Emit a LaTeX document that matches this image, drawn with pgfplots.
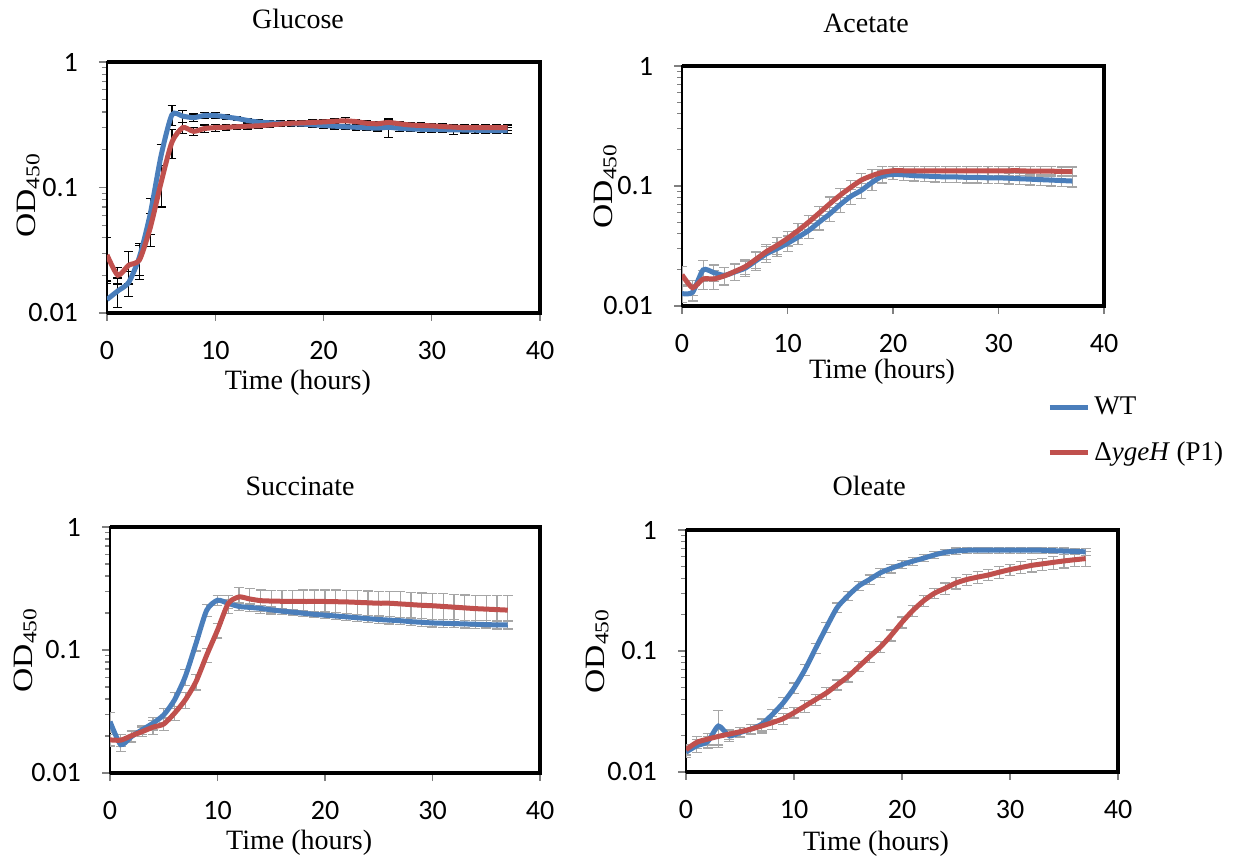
\documentclass[border=0pt]{standalone}
\usepackage{fontspec}
\setmainfont{Liberation Serif}
\newfontfamily\calibri{Carlito}
\usepackage{pgfplots}
\usepackage{pgfplotstable}
\pgfplotsset{compat=1.18}
\definecolor{wtblue}{HTML}{4A7EBB}
\definecolor{ygred}{HTML}{C0504D}

\pgfplotstableread{
x wt wte yg yge
0 0.0128 0.0043 0.029 0.011
1 0.0150 0.0040 0.0200 0.0030
2 0.0175 0.0040 0.0240 0.0070
3 0.028 0.008 0.0265 0.0080
4 0.062 0.020 0.048 0.014
5 0.18 0.04 0.11 0.04
6 0.38 0.07 0.23 0.06
7 0.37 0.04 0.30 0.03
8 0.36 0.025 0.28 0.02
9 0.375 0.02 0.295 0.02
10 0.375 0.02 0.30 0.02
11 0.365 0.015 0.302 0.015
12 0.355 0.015 0.305 0.015
13 0.342 0.015 0.308 0.015
14 0.332 0.015 0.31 0.015
15 0.328 0.015 0.315 0.015
16 0.325 0.015 0.32 0.015
17 0.322 0.015 0.325 0.015
18 0.32 0.015 0.327 0.015
19 0.316 0.015 0.33 0.015
20 0.312 0.015 0.333 0.015
21 0.308 0.015 0.337 0.015
22 0.305 0.015 0.34 0.02
23 0.302 0.015 0.335 0.015
24 0.299 0.015 0.325 0.015
25 0.297 0.015 0.322 0.015
26 0.302 0.05 0.33 0.015
27 0.296 0.015 0.322 0.015
28 0.293 0.015 0.315 0.015
29 0.291 0.015 0.312 0.015
30 0.29 0.015 0.31 0.015
31 0.289 0.015 0.306 0.015
32 0.288 0.025 0.303 0.015
33 0.287 0.015 0.30 0.015
34 0.286 0.015 0.30 0.015
35 0.285 0.015 0.30 0.015
36 0.284 0.015 0.30 0.015
37 0.284 0.015 0.30 0.015
}\glu

\pgfplotstableread{
x wt wte yg yge
0 0.0127 0.002 0.0182 0.003
1 0.0130 0.002 0.0142 0.002
2 0.0200 0.004 0.0168 0.003
3 0.0190 0.003 0.0168 0.003
4 0.0180 0.003 0.0178 0.003
5 0.0192 0.003 0.0194 0.003
6 0.0207 0.003 0.0213 0.003
7 0.0238 0.004 0.0245 0.004
8 0.0272 0.004 0.0284 0.004
9 0.0300 0.004 0.0320 0.005
10 0.0333 0.005 0.0366 0.005
11 0.0375 0.005 0.0425 0.006
12 0.0425 0.006 0.0500 0.007
13 0.0500 0.007 0.0595 0.008
14 0.0585 0.008 0.0710 0.010
15 0.0700 0.010 0.0840 0.012
16 0.0820 0.012 0.0975 0.014
17 0.0920 0.013 0.112 0.015
18 0.107 0.015 0.122 0.015
19 0.121 0.015 0.130 0.015
20 0.125 0.012 0.134 0.012
21 0.124 0.012 0.134 0.012
22 0.122 0.012 0.134 0.012
23 0.121 0.012 0.134 0.012
24 0.120 0.012 0.134 0.012
25 0.119 0.012 0.134 0.012
26 0.119 0.012 0.134 0.012
27 0.118 0.012 0.134 0.012
28 0.118 0.012 0.134 0.012
29 0.117 0.012 0.134 0.012
30 0.117 0.012 0.134 0.012
31 0.116 0.012 0.134 0.012
32 0.115 0.012 0.134 0.012
33 0.114 0.012 0.133 0.012
34 0.113 0.012 0.133 0.012
35 0.112 0.012 0.133 0.012
36 0.111 0.012 0.132 0.012
37 0.110 0.012 0.132 0.012
}\ace

\pgfplotstableread{
x wt wte yg yge
0 0.0262 0.005 0.0186 0.002
1 0.0170 0.002 0.0185 0.002
2 0.0198 0.002 0.0201 0.002
3 0.0225 0.002 0.0217 0.002
4 0.0254 0.003 0.0236 0.003
5 0.0297 0.004 0.0250 0.003
6 0.0393 0.006 0.0306 0.004
7 0.0608 0.009 0.0393 0.006
8 0.113 0.015 0.0553 0.008
9 0.211 0.025 0.091 0.012
10 0.254 0.025 0.145 0.020
11 0.239 0.020 0.239 0.040
12 0.226 0.015 0.270 0.050
13 0.222 0.015 0.260 0.055
14 0.218 0.012 0.252 0.055
15 0.212 0.012 0.250 0.055
16 0.207 0.012 0.249 0.055
17 0.203 0.012 0.249 0.055
18 0.199 0.012 0.248 0.060
19 0.195 0.012 0.248 0.060
20 0.192 0.012 0.248 0.060
21 0.189 0.012 0.247 0.060
22 0.186 0.012 0.246 0.060
23 0.183 0.012 0.244 0.060
24 0.180 0.012 0.242 0.060
25 0.177 0.012 0.240 0.060
26 0.175 0.012 0.240 0.060
27 0.173 0.012 0.237 0.060
28 0.170 0.012 0.234 0.060
29 0.168 0.012 0.231 0.060
30 0.166 0.012 0.229 0.060
31 0.165 0.012 0.226 0.060
32 0.164 0.012 0.223 0.060
33 0.163 0.012 0.220 0.060
34 0.162 0.012 0.217 0.060
35 0.161 0.012 0.215 0.062
36 0.160 0.012 0.213 0.064
37 0.160 0.012 0.211 0.065
}\suc

\pgfplotstableread{
x wt wte yg yge
0 0.0146 0.0015 0.0153 0.0015
1 0.0165 0.002 0.0176 0.002
2 0.0178 0.002 0.0187 0.002
3 0.0240 0.008 0.0197 0.003
4 0.0199 0.002 0.0206 0.002
5 0.0212 0.002 0.0215 0.002
6 0.0226 0.002 0.0226 0.002
7 0.0248 0.003 0.0240 0.003
8 0.0299 0.003 0.0256 0.003
9 0.0373 0.004 0.0276 0.003
10 0.0494 0.005 0.0309 0.003
11 0.0698 0.007 0.0350 0.004
12 0.105 0.010 0.0397 0.004
13 0.157 0.015 0.0450 0.005
14 0.229 0.020 0.0526 0.005
15 0.286 0.025 0.0615 0.006
16 0.345 0.030 0.0743 0.007
17 0.390 0.035 0.0899 0.009
18 0.443 0.035 0.108 0.011
19 0.482 0.040 0.135 0.014
20 0.518 0.040 0.173 0.018
21 0.552 0.040 0.216 0.022
22 0.585 0.040 0.260 0.026
23 0.622 0.040 0.300 0.030
24 0.654 0.040 0.330 0.035
25 0.670 0.040 0.365 0.040
26 0.680 0.040 0.390 0.040
27 0.682 0.040 0.408 0.045
28 0.682 0.040 0.425 0.045
29 0.682 0.040 0.448 0.050
30 0.682 0.040 0.471 0.050
31 0.682 0.040 0.490 0.055
32 0.682 0.040 0.510 0.060
33 0.680 0.040 0.525 0.060
34 0.675 0.040 0.540 0.065
35 0.670 0.040 0.555 0.070
36 0.665 0.040 0.568 0.070
37 0.660 0.040 0.580 0.080
}\ole

\pgfplotsset{
 every axis/.append style={
  scale only axis,
  xmin=0, xmax=40, ymin=0.01, ymax=1,
  xtick={0,10,20,30,40},
  ytick={0.01,0.1,1}, yticklabels={0.01,0.1,1},
  minor ytick={0.02,0.03,0.04,0.05,0.06,0.07,0.08,0.09,0.2,0.3,0.4,0.5,0.6,0.7,0.8,0.9},
  tick pos=left, tick align=outside,
  major tick length=4pt, minor tick length=2.5pt,
  tick style={gray, line width=0.6pt},
  axis line style={black, line width=0.6pt},
  clip mode=individual,
  ticklabel style={font=\calibri\fontsize{14}{16}\selectfont},
  xticklabel style={yshift=-6.5pt},
  yticklabel style={xshift=-7pt},
  xlabel={Time (hours)},
  ylabel={OD\textsubscript{450}},
  label style={font=\fontsize{14}{16}\selectfont},
  title style={font=\fontsize{14}{16}\selectfont},
 },
}
\newcommand{\thickbox}{\draw[line width=2pt, black, line join=miter] (rel axis cs:0,1) -- (rel axis cs:1,1) -- (rel axis cs:1,0) -- (rel axis cs:0,0);}

\begin{document}
\begin{tikzpicture}
\useasboundingbox (0,0) rectangle (629pt,429pt);

% Glucose
\begin{semilogyaxis}[at={(53.5pt,272.5pt)}, anchor=south west,
  width=216.5pt, height=125.5pt,
  /pgf/number format/assume math mode=true,
  title={Glucose}, title style={at={(0.441,1)}, anchor=center, yshift=15.5pt},
  xlabel style={at={(0.441,0)}, anchor=center, yshift=-35pt},
  ylabel style={at={(0,0.47)}, anchor=center, yshift=39.5pt, xscale=1.2}]
\addplot[forget plot, draw=none, mark=none, error bars/.cd, y dir=both, y explicit, error bar style={draw=black, line width=0.6pt}, error mark options={rotate=90, draw=black, mark size=2.2pt, line width=0.6pt}] table[x=x, y=wt, y error=wte] {\glu};
\addplot[forget plot, draw=none, mark=none, error bars/.cd, y dir=both, y explicit, error bar style={draw=black, line width=0.6pt}, error mark options={rotate=90, draw=black, mark size=2.2pt, line width=0.6pt}] table[x=x, y=yg, y error=yge] {\glu};
\addplot[wtblue, line width=2.5pt, smooth, tension=0.4, forget plot] table[x=x, y=wt] {\glu};
\addplot[ygred, line width=2.5pt, smooth, tension=0.4, forget plot] table[x=x, y=yg] {\glu};
\thickbox
\end{semilogyaxis}

% Acetate
\begin{semilogyaxis}[at={(341pt,276pt)}, anchor=south west,
  width=211pt, height=120pt,
  /pgf/number format/assume math mode=true,
  title={Acetate}, title style={at={(0.436,1)}, anchor=center, yshift=15.5pt},
  xlabel style={at={(0.474,0)}, anchor=center, yshift=-33pt},
  ylabel style={at={(0,0.5)}, anchor=center, yshift=38.5pt, xscale=1.2},
  legend style={at={(0.865,-0.36)}, anchor=north west, draw=none, fill=none,
    font=\fontsize{13.5}{16}\selectfont, row sep=8pt, inner sep=0pt},
  legend cell align=left,
  legend image code/.code={\draw[#1] (0pt,0pt) -- (19pt,0pt);}]
\addplot[forget plot, draw=none, mark=none, error bars/.cd, y dir=both, y explicit, error bar style={draw=gray!70, line width=0.6pt}, error mark options={rotate=90, draw=gray!70, mark size=2.5pt, line width=0.6pt}] table[x=x, y=wt, y error=wte] {\ace};
\addplot[forget plot, draw=none, mark=none, error bars/.cd, y dir=both, y explicit, error bar style={draw=gray!70, line width=0.6pt}, error mark options={rotate=90, draw=gray!70, mark size=2.5pt, line width=0.6pt}] table[x=x, y=yg, y error=yge] {\ace};
\addplot[wtblue, line width=2.5pt, smooth, tension=0.4, forget plot] table[x=x, y=wt] {\ace};
\addplot[ygred, line width=2.5pt, smooth, tension=0.4, forget plot] table[x=x, y=yg] {\ace};
\addlegendimage{wtblue, line width=2.5pt}
\addlegendentry{WT}
\addlegendimage{ygred, line width=2.5pt}
\addlegendentry{Δ\textit{ygeH} (P1)}
\thickbox
\end{semilogyaxis}

% Succinate
\begin{semilogyaxis}[at={(55pt,42.5pt)}, anchor=south west,
  width=215pt, height=123pt,
  /pgf/number format/assume math mode=true,
  title={Succinate}, title style={at={(0.442,1)}, anchor=center, yshift=14.5pt},
  xlabel style={at={(0.44,0)}, anchor=center, yshift=-35pt},
  ylabel style={at={(0,0.5)}, anchor=center, yshift=42.5pt, xscale=1.2}]
\addplot[forget plot, draw=none, mark=none, error bars/.cd, y dir=both, y explicit, error bar style={draw=gray!70, line width=0.6pt}, error mark options={rotate=90, draw=gray!70, mark size=2.5pt, line width=0.6pt}] table[x=x, y=wt, y error=wte] {\suc};
\addplot[forget plot, draw=none, mark=none, error bars/.cd, y dir=both, y explicit, error bar style={draw=gray!70, line width=0.6pt}, error mark options={rotate=90, draw=gray!70, mark size=2.5pt, line width=0.6pt}] table[x=x, y=yg, y error=yge] {\suc};
\addplot[wtblue, line width=2.5pt, smooth, tension=0.4, forget plot] table[x=x, y=wt] {\suc};
\addplot[ygred, line width=2.5pt, smooth, tension=0.4, forget plot] table[x=x, y=yg] {\suc};
\thickbox
\end{semilogyaxis}

% Oleate
\begin{semilogyaxis}[at={(343pt,43pt)}, anchor=south west,
  width=216pt, height=121pt,
  /pgf/number format/assume math mode=true,
  title={Oleate}, title style={at={(0.424,1)}, anchor=center, yshift=16pt},
  xlabel style={at={(0.44,0)}, anchor=center, yshift=-36pt},
  ylabel style={at={(0,0.5)}, anchor=center, yshift=44.5pt, xscale=1.2}]
\addplot[forget plot, draw=none, mark=none, error bars/.cd, y dir=both, y explicit, error bar style={draw=gray!70, line width=0.6pt}, error mark options={rotate=90, draw=gray!70, mark size=2.5pt, line width=0.6pt}] table[x=x, y=wt, y error=wte] {\ole};
\addplot[forget plot, draw=none, mark=none, error bars/.cd, y dir=both, y explicit, error bar style={draw=gray!70, line width=0.6pt}, error mark options={rotate=90, draw=gray!70, mark size=2.5pt, line width=0.6pt}] table[x=x, y=yg, y error=yge] {\ole};
\addplot[wtblue, line width=2.5pt, smooth, tension=0.4, forget plot] table[x=x, y=wt] {\ole};
\addplot[ygred, line width=2.5pt, smooth, tension=0.4, forget plot] table[x=x, y=yg] {\ole};
\thickbox
\end{semilogyaxis}
\end{tikzpicture}
\end{document}
